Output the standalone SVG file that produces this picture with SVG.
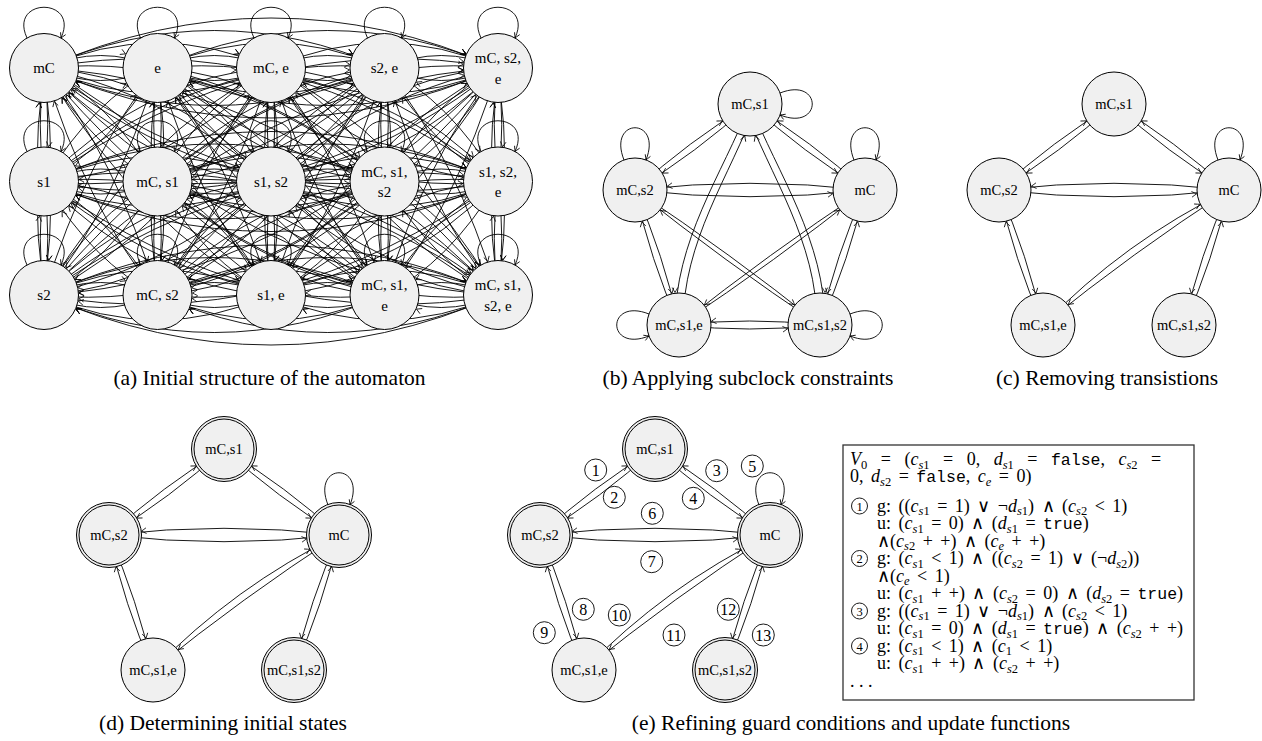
<svg xmlns="http://www.w3.org/2000/svg" width="1262" height="741" viewBox="0 0 1262 741">
<style>
.bg{fill:#fff}
.n circle{fill:#f0f0f0;stroke:#000;stroke-width:1}
.n circle.in{fill:none}
.n text{font-family:"Liberation Serif","Times New Roman",serif;font-size:14.5px;text-anchor:middle;fill:#000}
.na text{font-size:15px}
.ea path{fill:none;stroke:#000;stroke-width:0.9;marker-end:url(#ma)}
.la path{fill:none;stroke:#000;stroke-width:0.9;marker-end:url(#ml)}
.eb path{fill:none;stroke:#000;stroke-width:0.9;marker-end:url(#mb)}
.lb path{fill:none;stroke:#000;stroke-width:0.9;marker-end:url(#ml)}
.cap{font-family:"Liberation Serif","Times New Roman",serif;font-size:21.5px;text-anchor:middle;fill:#000}
.bx{font-family:"Liberation Serif","Times New Roman",serif;font-size:18px;fill:#000}
.i{font-style:italic}
.sb{font-size:12.5px}
.tt{font-family:"Liberation Mono","Courier New",monospace;font-size:16.5px}
.cn{fill:none;stroke:#000;stroke-width:0.9}
.cd{font-family:"Liberation Serif","Times New Roman",serif;font-size:12.5px;text-anchor:middle}
.ce{font-family:"Liberation Serif","Times New Roman",serif;font-size:16px;text-anchor:middle}
</style>
<defs>
<marker id="ma" markerUnits="userSpaceOnUse" orient="auto" markerWidth="1" markerHeight="1" refX="0" refY="0" overflow="visible"><path d="M-40,-2.8 Q-36.5,-0.8 -35,0 Q-36.5,0.8 -40,2.8" fill="none" stroke="#000" stroke-width="0.8"/></marker>
<marker id="mb" markerUnits="userSpaceOnUse" orient="auto" markerWidth="1" markerHeight="1" refX="0" refY="0" overflow="visible"><path d="M-37.5,-2.8 Q-34,-0.8 -32.5,0 Q-34,0.8 -37.5,2.8" fill="none" stroke="#000" stroke-width="0.8"/></marker>
<marker id="ml" markerUnits="userSpaceOnUse" orient="auto" markerWidth="1" markerHeight="1" refX="0" refY="0" overflow="visible"><path d="M-5,-2.8 Q-1.5,-0.8 0,0 Q-1.5,0.8 -5,2.8" fill="none" stroke="#000" stroke-width="0.8"/></marker>
</defs>
<rect class="bg" x="0" y="0" width="1262" height="741"/>

<!-- Panel (a) -->
<g id="panel-a">
<g id="a-connectors" class="ea">
<path d="M44,68Q51.5,124.75 44,181.5"/><path d="M44,181.5Q36.5,124.75 44,68"/>
<path d="M44,68Q108.25,99.75 157.5,181.5"/><path d="M157.5,181.5Q93.25,149.75 44,68"/>
<path d="M44,68Q165,74.75 271,181.5"/><path d="M271,181.5Q150,174.75 44,68"/>
<path d="M44,68Q221.75,49.75 384.5,181.5"/><path d="M384.5,181.5Q206.75,199.75 44,68"/>
<path d="M44,68Q278.5,24.75 498,181.5"/><path d="M498,181.5Q263.5,224.75 44,68"/>
<path d="M157.5,68Q108.25,149.75 44,181.5"/><path d="M44,181.5Q93.25,99.75 157.5,68"/>
<path d="M157.5,68Q165,124.75 157.5,181.5"/><path d="M157.5,181.5Q150,124.75 157.5,68"/>
<path d="M157.5,68Q221.75,99.75 271,181.5"/><path d="M271,181.5Q206.75,149.75 157.5,68"/>
<path d="M157.5,68Q278.5,74.75 384.5,181.5"/><path d="M384.5,181.5Q263.5,174.75 157.5,68"/>
<path d="M157.5,68Q335.25,49.75 498,181.5"/><path d="M498,181.5Q320.25,199.75 157.5,68"/>
<path d="M271,68Q165,174.75 44,181.5"/><path d="M44,181.5Q150,74.75 271,68"/>
<path d="M271,68Q221.75,149.75 157.5,181.5"/><path d="M157.5,181.5Q206.75,99.75 271,68"/>
<path d="M271,68Q278.5,124.75 271,181.5"/><path d="M271,181.5Q263.5,124.75 271,68"/>
<path d="M271,68Q335.25,99.75 384.5,181.5"/><path d="M384.5,181.5Q320.25,149.75 271,68"/>
<path d="M271,68Q392,74.75 498,181.5"/><path d="M498,181.5Q377,174.75 271,68"/>
<path d="M384.5,68Q221.75,199.75 44,181.5"/><path d="M44,181.5Q206.75,49.75 384.5,68"/>
<path d="M384.5,68Q278.5,174.75 157.5,181.5"/><path d="M157.5,181.5Q263.5,74.75 384.5,68"/>
<path d="M384.5,68Q335.25,149.75 271,181.5"/><path d="M271,181.5Q320.25,99.75 384.5,68"/>
<path d="M384.5,68Q392,124.75 384.5,181.5"/><path d="M384.5,181.5Q377,124.75 384.5,68"/>
<path d="M384.5,68Q448.75,99.75 498,181.5"/><path d="M498,181.5Q433.75,149.75 384.5,68"/>
<path d="M498,68Q278.5,224.75 44,181.5"/><path d="M44,181.5Q263.5,24.75 498,68"/>
<path d="M498,68Q335.25,199.75 157.5,181.5"/><path d="M157.5,181.5Q320.25,49.75 498,68"/>
<path d="M498,68Q392,174.75 271,181.5"/><path d="M271,181.5Q377,74.75 498,68"/>
<path d="M498,68Q448.75,149.75 384.5,181.5"/><path d="M384.5,181.5Q433.75,99.75 498,68"/>
<path d="M498,68Q505.5,124.75 498,181.5"/><path d="M498,181.5Q490.5,124.75 498,68"/>

<path d="M44,181.5Q51.5,238.25 44,295"/><path d="M44,295Q36.5,238.25 44,181.5"/>
<path d="M44,181.5Q108.25,213.25 157.5,295"/><path d="M157.5,295Q93.25,263.25 44,181.5"/>
<path d="M44,181.5Q165,188.25 271,295"/><path d="M271,295Q150,288.25 44,181.5"/>
<path d="M44,181.5Q221.75,163.25 384.5,295"/><path d="M384.5,295Q206.75,313.25 44,181.5"/>
<path d="M44,181.5Q278.5,138.25 498,295"/><path d="M498,295Q263.5,338.25 44,181.5"/>
<path d="M157.5,181.5Q108.25,263.25 44,295"/><path d="M44,295Q93.25,213.25 157.5,181.5"/>
<path d="M157.5,181.5Q165,238.25 157.5,295"/><path d="M157.5,295Q150,238.25 157.5,181.5"/>
<path d="M157.5,181.5Q221.75,213.25 271,295"/><path d="M271,295Q206.75,263.25 157.5,181.5"/>
<path d="M157.5,181.5Q278.5,188.25 384.5,295"/><path d="M384.5,295Q263.5,288.25 157.5,181.5"/>
<path d="M157.5,181.5Q335.25,163.25 498,295"/><path d="M498,295Q320.25,313.25 157.5,181.5"/>
<path d="M271,181.5Q165,288.25 44,295"/><path d="M44,295Q150,188.25 271,181.5"/>
<path d="M271,181.5Q221.75,263.25 157.5,295"/><path d="M157.5,295Q206.75,213.25 271,181.5"/>
<path d="M271,181.5Q278.5,238.25 271,295"/><path d="M271,295Q263.5,238.25 271,181.5"/>
<path d="M271,181.5Q335.25,213.25 384.5,295"/><path d="M384.5,295Q320.25,263.25 271,181.5"/>
<path d="M271,181.5Q392,188.25 498,295"/><path d="M498,295Q377,288.25 271,181.5"/>
<path d="M384.5,181.5Q221.75,313.25 44,295"/><path d="M44,295Q206.75,163.25 384.5,181.5"/>
<path d="M384.5,181.5Q278.5,288.25 157.5,295"/><path d="M157.5,295Q263.5,188.25 384.5,181.5"/>
<path d="M384.5,181.5Q335.25,263.25 271,295"/><path d="M271,295Q320.25,213.25 384.5,181.5"/>
<path d="M384.5,181.5Q392,238.25 384.5,295"/><path d="M384.5,295Q377,238.25 384.5,181.5"/>
<path d="M384.5,181.5Q448.75,213.25 498,295"/><path d="M498,295Q433.75,263.25 384.5,181.5"/>
<path d="M498,181.5Q278.5,338.25 44,295"/><path d="M44,295Q263.5,138.25 498,181.5"/>
<path d="M498,181.5Q335.25,313.25 157.5,295"/><path d="M157.5,295Q320.25,163.25 498,181.5"/>
<path d="M498,181.5Q392,288.25 271,295"/><path d="M271,295Q377,188.25 498,181.5"/>
<path d="M498,181.5Q448.75,263.25 384.5,295"/><path d="M384.5,295Q433.75,213.25 498,181.5"/>
<path d="M498,181.5Q505.5,238.25 498,295"/><path d="M498,295Q490.5,238.25 498,181.5"/>

<path d="M44,68Q59,181.5 44,295"/><path d="M44,295Q29,181.5 44,68"/>
<path d="M44,68Q115.75,156.5 157.5,295"/><path d="M157.5,295Q85.75,206.5 44,68"/>
<path d="M44,68Q172.5,131.5 271,295"/><path d="M271,295Q142.5,231.5 44,68"/>
<path d="M44,68Q229.25,106.5 384.5,295"/><path d="M384.5,295Q199.25,256.5 44,68"/>
<path d="M44,68Q286,81.5 498,295"/><path d="M498,295Q256,281.5 44,68"/>
<path d="M157.5,68Q115.75,206.5 44,295"/><path d="M44,295Q85.75,156.5 157.5,68"/>
<path d="M157.5,68Q172.5,181.5 157.5,295"/><path d="M157.5,295Q142.5,181.5 157.5,68"/>
<path d="M157.5,68Q229.25,156.5 271,295"/><path d="M271,295Q199.25,206.5 157.5,68"/>
<path d="M157.5,68Q286,131.5 384.5,295"/><path d="M384.5,295Q256,231.5 157.5,68"/>
<path d="M157.5,68Q342.75,106.5 498,295"/><path d="M498,295Q312.75,256.5 157.5,68"/>
<path d="M271,68Q172.5,231.5 44,295"/><path d="M44,295Q142.5,131.5 271,68"/>
<path d="M271,68Q229.25,206.5 157.5,295"/><path d="M157.5,295Q199.25,156.5 271,68"/>
<path d="M271,68Q286,181.5 271,295"/><path d="M271,295Q256,181.5 271,68"/>
<path d="M271,68Q342.75,156.5 384.5,295"/><path d="M384.5,295Q312.75,206.5 271,68"/>
<path d="M271,68Q399.5,131.5 498,295"/><path d="M498,295Q369.5,231.5 271,68"/>
<path d="M384.5,68Q229.25,256.5 44,295"/><path d="M44,295Q199.25,106.5 384.5,68"/>
<path d="M384.5,68Q286,231.5 157.5,295"/><path d="M157.5,295Q256,131.5 384.5,68"/>
<path d="M384.5,68Q342.75,206.5 271,295"/><path d="M271,295Q312.75,156.5 384.5,68"/>
<path d="M384.5,68Q399.5,181.5 384.5,295"/><path d="M384.5,295Q369.5,181.5 384.5,68"/>
<path d="M384.5,68Q456.25,156.5 498,295"/><path d="M498,295Q426.25,206.5 384.5,68"/>
<path d="M498,68Q286,281.5 44,295"/><path d="M44,295Q256,81.5 498,68"/>
<path d="M498,68Q342.75,256.5 157.5,295"/><path d="M157.5,295Q312.75,106.5 498,68"/>
<path d="M498,68Q399.5,231.5 271,295"/><path d="M271,295Q369.5,131.5 498,68"/>
<path d="M498,68Q456.25,206.5 384.5,295"/><path d="M384.5,295Q426.25,156.5 498,68"/>
<path d="M498,68Q513,181.5 498,295"/><path d="M498,295Q483,181.5 498,68"/>

<path d="M44,68Q100.75,43 157.5,68"/><path d="M157.5,68Q100.75,93 44,68"/>
<path d="M44,68Q157.5,18 271,68"/><path d="M271,68Q157.5,118 44,68"/>
<path d="M44,68Q214.25,-7 384.5,68"/><path d="M384.5,68Q214.25,143 44,68"/>
<path d="M44,68Q271,-32 498,68"/><path d="M498,68Q271,168 44,68"/>
<path d="M157.5,68Q214.25,43 271,68"/><path d="M271,68Q214.25,93 157.5,68"/>
<path d="M157.5,68Q271,18 384.5,68"/><path d="M384.5,68Q271,118 157.5,68"/>
<path d="M157.5,68Q327.75,-7 498,68"/><path d="M498,68Q327.75,143 157.5,68"/>
<path d="M271,68Q327.75,43 384.5,68"/><path d="M384.5,68Q327.75,93 271,68"/>
<path d="M271,68Q384.5,18 498,68"/><path d="M498,68Q384.5,118 271,68"/>
<path d="M384.5,68Q441.25,43 498,68"/><path d="M498,68Q441.25,93 384.5,68"/>

<path d="M44,181.5Q100.75,156.5 157.5,181.5"/><path d="M157.5,181.5Q100.75,206.5 44,181.5"/>
<path d="M44,181.5Q157.5,131.5 271,181.5"/><path d="M271,181.5Q157.5,231.5 44,181.5"/>
<path d="M44,181.5Q214.25,106.5 384.5,181.5"/><path d="M384.5,181.5Q214.25,256.5 44,181.5"/>
<path d="M44,181.5Q271,81.5 498,181.5"/><path d="M498,181.5Q271,281.5 44,181.5"/>
<path d="M157.5,181.5Q214.25,156.5 271,181.5"/><path d="M271,181.5Q214.25,206.5 157.5,181.5"/>
<path d="M157.5,181.5Q271,131.5 384.5,181.5"/><path d="M384.5,181.5Q271,231.5 157.5,181.5"/>
<path d="M157.5,181.5Q327.75,106.5 498,181.5"/><path d="M498,181.5Q327.75,256.5 157.5,181.5"/>
<path d="M271,181.5Q327.75,156.5 384.5,181.5"/><path d="M384.5,181.5Q327.75,206.5 271,181.5"/>
<path d="M271,181.5Q384.5,131.5 498,181.5"/><path d="M498,181.5Q384.5,231.5 271,181.5"/>
<path d="M384.5,181.5Q441.25,156.5 498,181.5"/><path d="M498,181.5Q441.25,206.5 384.5,181.5"/>

<path d="M44,295Q100.75,270 157.5,295"/><path d="M157.5,295Q100.75,320 44,295"/>
<path d="M44,295Q157.5,245 271,295"/><path d="M271,295Q157.5,345 44,295"/>
<path d="M44,295Q214.25,220 384.5,295"/><path d="M384.5,295Q214.25,370 44,295"/>
<path d="M44,295Q271,195 498,295"/><path d="M498,295Q271,395 44,295"/>
<path d="M157.5,295Q214.25,270 271,295"/><path d="M271,295Q214.25,320 157.5,295"/>
<path d="M157.5,295Q271,245 384.5,295"/><path d="M384.5,295Q271,345 157.5,295"/>
<path d="M157.5,295Q327.75,220 498,295"/><path d="M498,295Q327.75,370 157.5,295"/>
<path d="M271,295Q327.75,270 384.5,295"/><path d="M384.5,295Q327.75,320 271,295"/>
<path d="M271,295Q384.5,245 498,295"/><path d="M498,295Q384.5,345 271,295"/>
<path d="M384.5,295Q441.25,270 498,295"/><path d="M498,295Q441.25,320 384.5,295"/>
</g>
<g id="a-loops" class="la">
<path d="M27,38C8,-3 80,-3 61,38"/>
<path d="M140.5,38C121.5,-3 193.5,-3 174.5,38"/>
<path d="M254,38C235,-3 307,-3 288,38"/>
<path d="M367.5,38C348.5,-3 420.5,-3 401.5,38"/>
<path d="M481,38C462,-3 534,-3 515,38"/>
<path d="M27,151.5C8,110.5 80,110.5 61,151.5"/>
<path d="M140.5,151.5C121.5,110.5 193.5,110.5 174.5,151.5"/>
<path d="M254,151.5C235,110.5 307,110.5 288,151.5"/>
<path d="M367.5,151.5C348.5,110.5 420.5,110.5 401.5,151.5"/>
<path d="M481,151.5C462,110.5 534,110.5 515,151.5"/>
<path d="M27,265C8,224 80,224 61,265"/>
<path d="M140.5,265C121.5,224 193.5,224 174.5,265"/>
<path d="M254,265C235,224 307,224 288,265"/>
<path d="M367.5,265C348.5,224 420.5,224 401.5,265"/>
<path d="M481,265C462,224 534,224 515,265"/>
</g>
<g id="a-mC" class="n na"><circle cx="44" cy="68" r="34.5"/><text x="44" y="73">mC</text></g>
<g id="a-e" class="n na"><circle cx="157.5" cy="68" r="34.5"/><text x="157.5" y="73">e</text></g>
<g id="a-mC-e" class="n na"><circle cx="271" cy="68" r="34.5"/><text x="271" y="73">mC, e</text></g>
<g id="a-s2-e" class="n na"><circle cx="384.5" cy="68" r="34.5"/><text x="384.5" y="73">s2, e</text></g>
<g id="a-mC-s2-e" class="n na"><circle cx="498" cy="68" r="34.5"/><text x="498" y="63">mC, s2,</text><text x="498" y="83.5">e</text></g>
<g id="a-s1" class="n na"><circle cx="44" cy="181.5" r="34.5"/><text x="44" y="186.5">s1</text></g>
<g id="a-mC-s1" class="n na"><circle cx="157.5" cy="181.5" r="34.5"/><text x="157.5" y="186.5">mC, s1</text></g>
<g id="a-s1-s2" class="n na"><circle cx="271" cy="181.5" r="34.5"/><text x="271" y="186.5">s1, s2</text></g>
<g id="a-mC-s1-s2" class="n na"><circle cx="384.5" cy="181.5" r="34.5"/><text x="384.5" y="176.5">mC, s1,</text><text x="384.5" y="197">s2</text></g>
<g id="a-s1-s2-e" class="n na"><circle cx="498" cy="181.5" r="34.5"/><text x="498" y="176.5">s1, s2,</text><text x="498" y="197">e</text></g>
<g id="a-s2" class="n na"><circle cx="44" cy="295" r="34.5"/><text x="44" y="300">s2</text></g>
<g id="a-mC-s2" class="n na"><circle cx="157.5" cy="295" r="34.5"/><text x="157.5" y="300">mC, s2</text></g>
<g id="a-s1-e" class="n na"><circle cx="271" cy="295" r="34.5"/><text x="271" y="300">s1, e</text></g>
<g id="a-mC-s1-e" class="n na"><circle cx="384.5" cy="295" r="34.5"/><text x="384.5" y="290">mC, s1,</text><text x="384.5" y="310.5">e</text></g>
<g id="a-mC-s1-s2-e" class="n na"><circle cx="498" cy="295" r="34.5"/><text x="498" y="290">mC, s1,</text><text x="498" y="310.5">s2, e</text></g>
<text class="cap" x="269.5" y="385">(a) Initial structure of the automaton</text>
</g>

<!-- Panel (b) -->
<g id="panel-b">
<g id="b-connectors" class="eb">
<path d="M635,190 Q688.3,141.4 750,104"/><path d="M750,104 Q696.7,152.6 635,190"/>
<path d="M865,190 Q811.7,141.4 750,104"/><path d="M750,104 Q803.3,152.6 865,190"/>
<path d="M865,190 Q750,176.6 635,190"/><path d="M635,190 Q750,203.4 865,190"/>
<path d="M750,104 C722,175 675,240 675,325"/><path d="M683,325 C683,240 730,176.5 756,105.5"/>
<path d="M750,104 C778,175 825,240 825,325"/><path d="M817,325 C817,240 770,176.5 744,105.5"/>
<path d="M679,325 Q650.3,259.7 635,190"/><path d="M635,190 Q663.7,255.3 679,325"/>
<path d="M820,325 Q849.2,259.7 865,190"/><path d="M865,190 Q835.8,255.3 820,325"/>
<path d="M635,190 Q730.4,253.5 820,325"/><path d="M820,325 Q724.6,261.5 635,190"/>
<path d="M865,190 Q769.1,253.5 679,325"/><path d="M679,325 Q774.9,261.5 865,190"/>
<path d="M820,325 Q749.5,317 679,325"/><path d="M679,325 Q749.5,333 820,325"/>
</g>
<g id="b-loops" class="lb">
<path d="M780,93 C823,76 823,132 780,115"/>
<path d="M624,160 C607,117 663,117 646,160"/>
<path d="M854,160 C837,117 893,117 876,160"/>
<path d="M649,314 C606,297 606,353 649,336"/>
<path d="M850,314 C893,297 893,353 850,336"/>
</g>
<g id="b-mC-s1" class="n"><circle cx="750" cy="104" r="32"/><text x="750" y="109">mC,s1</text></g>
<g id="b-mC-s2" class="n"><circle cx="635" cy="190" r="32"/><text x="635" y="195">mC,s2</text></g>
<g id="b-mC" class="n"><circle cx="865" cy="190" r="32"/><text x="865" y="195">mC</text></g>
<g id="b-mC-s1-e" class="n"><circle cx="679" cy="325" r="32"/><text x="679" y="330">mC,s1,e</text></g>
<g id="b-mC-s1-s2" class="n"><circle cx="820" cy="325" r="32"/><text x="820" y="330">mC,s1,s2</text></g>
<text class="cap" x="748" y="385">(b) Applying subclock constraints</text>
</g>

<!-- Panel (c) -->
<g id="panel-c">
<g transform="translate(364,0)">
<g id="c-connectors" class="eb">
<path d="M635,190 Q688.3,141.4 750,104"/><path d="M750,104 Q696.7,152.6 635,190"/>
<path d="M865,190 Q811.7,141.4 750,104"/><path d="M750,104 Q803.3,152.6 865,190"/>
<path d="M865,190 Q750,176.6 635,190"/><path d="M635,190 Q750,203.4 865,190"/>
<path d="M679,325 Q650.3,259.7 635,190"/><path d="M635,190 Q663.7,255.3 679,325"/>
<path d="M820,325 Q849.2,259.7 865,190"/><path d="M865,190 Q835.8,255.3 820,325"/>
<path d="M679,325 Q760.3,241.3 865,190"/><path d="M865,190 Q768.5,252.6 679,325"/>
</g>
<g id="c-loops" class="lb"><path d="M854,160 C837,117 893,117 876,160"/></g>
<g id="c-mC-s1" class="n"><circle cx="750" cy="104" r="32"/><text x="750" y="109">mC,s1</text></g>
<g id="c-mC-s2" class="n"><circle cx="635" cy="190" r="32"/><text x="635" y="195">mC,s2</text></g>
<g id="c-mC" class="n"><circle cx="865" cy="190" r="32"/><text x="865" y="195">mC</text></g>
<g id="c-mC-s1-e" class="n"><circle cx="679" cy="325" r="32"/><text x="679" y="330">mC,s1,e</text></g>
<g id="c-mC-s1-s2" class="n"><circle cx="820" cy="325" r="32"/><text x="820" y="330">mC,s1,s2</text></g>
</g>
<text class="cap" x="1107" y="385">(c) Removing transistions</text>
</g>

<!-- Panel (d) -->
<g id="panel-d">
<g transform="translate(-526,345)">
<g id="d-connectors" class="eb">
<path d="M635,190 Q688.3,141.4 750,104"/><path d="M750,104 Q696.7,152.6 635,190"/>
<path d="M865,190 Q811.7,141.4 750,104"/><path d="M750,104 Q803.3,152.6 865,190"/>
<path d="M865,190 Q750,176.6 635,190"/><path d="M635,190 Q750,203.4 865,190"/>
<path d="M679,325 Q650.3,259.7 635,190"/><path d="M635,190 Q663.7,255.3 679,325"/>
<path d="M820,325 Q849.2,259.7 865,190"/><path d="M865,190 Q835.8,255.3 820,325"/>
<path d="M679,325 Q760.3,241.3 865,190"/><path d="M865,190 Q768.5,252.6 679,325"/>
</g>
<g id="d-loops" class="lb"><path d="M854,160 C837,117 893,117 876,160"/></g>
<g id="d-mC-s1" class="n"><circle cx="750" cy="104" r="32.5"/><circle class="in" cx="750" cy="104" r="30"/><text x="750" y="109">mC,s1</text></g>
<g id="d-mC-s2" class="n"><circle cx="635" cy="190" r="32.5"/><circle class="in" cx="635" cy="190" r="30"/><text x="635" y="195">mC,s2</text></g>
<g id="d-mC" class="n"><circle cx="865" cy="190" r="32.5"/><circle class="in" cx="865" cy="190" r="30"/><text x="865" y="195">mC</text></g>
<g id="d-mC-s1-e" class="n"><circle cx="679" cy="325" r="32"/><text x="679" y="330">mC,s1,e</text></g>
<g id="d-mC-s1-s2" class="n"><circle cx="820" cy="325" r="32.5"/><circle class="in" cx="820" cy="325" r="30"/><text x="820" y="330">mC,s1,s2</text></g>
</g>
<text class="cap" x="223" y="730">(d) Determining initial states</text>
</g>

<!-- Panel (e) -->
<g id="panel-e">
<g transform="translate(-95,345)">
<g id="e-connectors" class="eb">
<path d="M635,190 Q688.3,141.4 750,104"/><path d="M750,104 Q696.7,152.6 635,190"/>
<path d="M865,190 Q811.7,141.4 750,104"/><path d="M750,104 Q803.3,152.6 865,190"/>
<path d="M865,190 Q750,176.6 635,190"/><path d="M635,190 Q750,203.4 865,190"/>
<path d="M679,325 Q650.3,259.7 635,190"/><path d="M635,190 Q663.7,255.3 679,325"/>
<path d="M820,325 Q849.2,259.7 865,190"/><path d="M865,190 Q835.8,255.3 820,325"/>
<path d="M679,325 Q760.3,241.3 865,190"/><path d="M865,190 Q768.5,252.6 679,325"/>
</g>
<g id="e-loops" class="lb"><path d="M854,160 C837,117 893,117 876,160"/></g>
<g id="e-mC-s1" class="n"><circle cx="750" cy="104" r="32.5"/><circle class="in" cx="750" cy="104" r="30"/><text x="750" y="109">mC,s1</text></g>
<g id="e-mC-s2" class="n"><circle cx="635" cy="190" r="32.5"/><circle class="in" cx="635" cy="190" r="30"/><text x="635" y="195">mC,s2</text></g>
<g id="e-mC" class="n"><circle cx="865" cy="190" r="32.5"/><circle class="in" cx="865" cy="190" r="30"/><text x="865" y="195">mC</text></g>
<g id="e-mC-s1-e" class="n"><circle cx="679" cy="325" r="32"/><text x="679" y="330">mC,s1,e</text></g>
<g id="e-mC-s1-s2" class="n"><circle cx="820" cy="325" r="32.5"/><circle class="in" cx="820" cy="325" r="30"/><text x="820" y="330">mC,s1,s2</text></g>
</g>
<g id="e-labels">
<circle class="cn" cx="595.7" cy="470" r="11"/><text class="ce" x="595.7" y="475.5">1</text>
<circle class="cn" cx="614.3" cy="497.3" r="11"/><text class="ce" x="614.3" y="502.8">2</text>
<circle class="cn" cx="716.7" cy="470.7" r="11"/><text class="ce" x="716.7" y="476.2">3</text>
<circle class="cn" cx="693.3" cy="498.3" r="11"/><text class="ce" x="693.3" y="503.8">4</text>
<circle class="cn" cx="752.3" cy="466" r="11"/><text class="ce" x="752.3" y="471.5">5</text>
<circle class="cn" cx="652.3" cy="513.3" r="11"/><text class="ce" x="652.3" y="518.8">6</text>
<circle class="cn" cx="651.7" cy="561.7" r="11"/><text class="ce" x="651.7" y="567.2">7</text>
<circle class="cn" cx="583.3" cy="609.3" r="11"/><text class="ce" x="583.3" y="614.8">8</text>
<circle class="cn" cx="544.3" cy="632.7" r="11"/><text class="ce" x="544.3" y="638.2">9</text>
<circle class="cn" cx="619.3" cy="615" r="11"/><text class="ce" x="619.3" y="620.5">10</text>
<circle class="cn" cx="674" cy="635" r="11"/><text class="ce" x="674" y="640.5">11</text>
<circle class="cn" cx="728.3" cy="609.3" r="11"/><text class="ce" x="728.3" y="614.8">12</text>
<circle class="cn" cx="763.3" cy="635" r="11"/><text class="ce" x="763.3" y="640.5">13</text>
</g>
<g id="e-box">
<rect x="843" y="445" width="351" height="255" fill="#fff" stroke="#333" stroke-width="1.3"/>
<text class="bx" x="850" y="465" word-spacing="9"><tspan class="i">V</tspan><tspan class="sb" dy="3.5">0</tspan><tspan dy="-3.5"> = (</tspan><tspan class="i">c</tspan><tspan class="sb" dy="3.5"><tspan class="i">s</tspan>1</tspan><tspan dy="-3.5"> = 0, </tspan><tspan class="i">d</tspan><tspan class="sb" dy="3.5"><tspan class="i">s</tspan>1</tspan><tspan dy="-3.5"> = </tspan><tspan class="tt">false</tspan>, <tspan class="i">c</tspan><tspan class="sb" dy="3.5"><tspan class="i">s</tspan>2</tspan><tspan dy="-3.5"> =</tspan></text>
<text class="bx" x="850" y="482" word-spacing="3">0, <tspan class="i">d</tspan><tspan class="sb" dy="3.5"><tspan class="i">s</tspan>2</tspan><tspan dy="-3.5"> = </tspan><tspan class="tt">false</tspan>, <tspan class="i">c</tspan><tspan class="sb i" dy="3.5">e</tspan><tspan dy="-3.5"> = 0)</tspan></text>

<circle class="cn" cx="859.5" cy="506" r="8"/><text class="cd" x="859.5" y="510.5">1</text>
<text class="bx" x="877" y="511.5" word-spacing="3">g: ((<tspan class="i">c</tspan><tspan class="sb" dy="3.5"><tspan class="i">s</tspan>1</tspan><tspan dy="-3.5"> = 1) ∨ ¬</tspan><tspan class="i">d</tspan><tspan class="sb" dy="3.5"><tspan class="i">s</tspan>1</tspan><tspan dy="-3.5">) ∧ (</tspan><tspan class="i">c</tspan><tspan class="sb" dy="3.5"><tspan class="i">s</tspan>2</tspan><tspan dy="-3.5"> &lt; 1)</tspan></text>
<text class="bx" x="877" y="529" word-spacing="3">u: (<tspan class="i">c</tspan><tspan class="sb" dy="3.5"><tspan class="i">s</tspan>1</tspan><tspan dy="-3.5"> = 0) ∧ (</tspan><tspan class="i">d</tspan><tspan class="sb" dy="3.5"><tspan class="i">s</tspan>1</tspan><tspan dy="-3.5"> = </tspan><tspan class="tt">true</tspan>)</text>
<text class="bx" x="877" y="546.5" word-spacing="3">∧(<tspan class="i">c</tspan><tspan class="sb" dy="3.5"><tspan class="i">s</tspan>2</tspan><tspan dy="-3.5"> + +) ∧ (</tspan><tspan class="i">c</tspan><tspan class="sb i" dy="3.5">e</tspan><tspan dy="-3.5"> + +)</tspan></text>

<circle class="cn" cx="859.5" cy="558.5" r="8"/><text class="cd" x="859.5" y="563">2</text>
<text class="bx" x="877" y="564" word-spacing="3">g: (<tspan class="i">c</tspan><tspan class="sb" dy="3.5"><tspan class="i">s</tspan>1</tspan><tspan dy="-3.5"> &lt; 1) ∧ ((</tspan><tspan class="i">c</tspan><tspan class="sb" dy="3.5"><tspan class="i">s</tspan>2</tspan><tspan dy="-3.5"> = 1) ∨ (¬</tspan><tspan class="i">d</tspan><tspan class="sb" dy="3.5"><tspan class="i">s</tspan>2</tspan><tspan dy="-3.5">))</tspan></text>
<text class="bx" x="877" y="581.5" word-spacing="3">∧(<tspan class="i">c</tspan><tspan class="sb i" dy="3.5">e</tspan><tspan dy="-3.5"> &lt; 1)</tspan></text>
<text class="bx" x="877" y="599" word-spacing="3">u: (<tspan class="i">c</tspan><tspan class="sb" dy="3.5"><tspan class="i">s</tspan>1</tspan><tspan dy="-3.5"> + +) ∧ (</tspan><tspan class="i">c</tspan><tspan class="sb" dy="3.5"><tspan class="i">s</tspan>2</tspan><tspan dy="-3.5"> = 0) ∧ (</tspan><tspan class="i">d</tspan><tspan class="sb" dy="3.5"><tspan class="i">s</tspan>2</tspan><tspan dy="-3.5"> = </tspan><tspan class="tt">true</tspan>)</text>

<circle class="cn" cx="859.5" cy="611" r="8"/><text class="cd" x="859.5" y="615.5">3</text>
<text class="bx" x="877" y="616.5" word-spacing="3">g: ((<tspan class="i">c</tspan><tspan class="sb" dy="3.5"><tspan class="i">s</tspan>1</tspan><tspan dy="-3.5"> = 1) ∨ ¬</tspan><tspan class="i">d</tspan><tspan class="sb" dy="3.5"><tspan class="i">s</tspan>1</tspan><tspan dy="-3.5">) ∧ (</tspan><tspan class="i">c</tspan><tspan class="sb" dy="3.5"><tspan class="i">s</tspan>2</tspan><tspan dy="-3.5"> &lt; 1)</tspan></text>
<text class="bx" x="877" y="634" word-spacing="3">u: (<tspan class="i">c</tspan><tspan class="sb" dy="3.5"><tspan class="i">s</tspan>1</tspan><tspan dy="-3.5"> = 0) ∧ (</tspan><tspan class="i">d</tspan><tspan class="sb" dy="3.5"><tspan class="i">s</tspan>1</tspan><tspan dy="-3.5"> = </tspan><tspan class="tt">true</tspan>) ∧ (<tspan class="i">c</tspan><tspan class="sb" dy="3.5"><tspan class="i">s</tspan>2</tspan><tspan dy="-3.5"> + +)</tspan></text>

<circle class="cn" cx="859.5" cy="646" r="8"/><text class="cd" x="859.5" y="650.5">4</text>
<text class="bx" x="877" y="651.5" word-spacing="3">g: (<tspan class="i">c</tspan><tspan class="sb" dy="3.5"><tspan class="i">s</tspan>1</tspan><tspan dy="-3.5"> &lt; 1) ∧ (</tspan><tspan class="i">c</tspan><tspan class="sb" dy="3.5">1</tspan><tspan dy="-3.5"> &lt; 1)</tspan></text>
<text class="bx" x="877" y="669" word-spacing="3">u: (<tspan class="i">c</tspan><tspan class="sb" dy="3.5"><tspan class="i">s</tspan>1</tspan><tspan dy="-3.5"> + +) ∧ (</tspan><tspan class="i">c</tspan><tspan class="sb" dy="3.5"><tspan class="i">s</tspan>2</tspan><tspan dy="-3.5"> + +)</tspan></text>
<text class="bx" x="850" y="686.5">. . .</text>
</g>
<text class="cap" x="851" y="730">(e) Refining guard conditions and update functions</text>
</g>
</svg>
